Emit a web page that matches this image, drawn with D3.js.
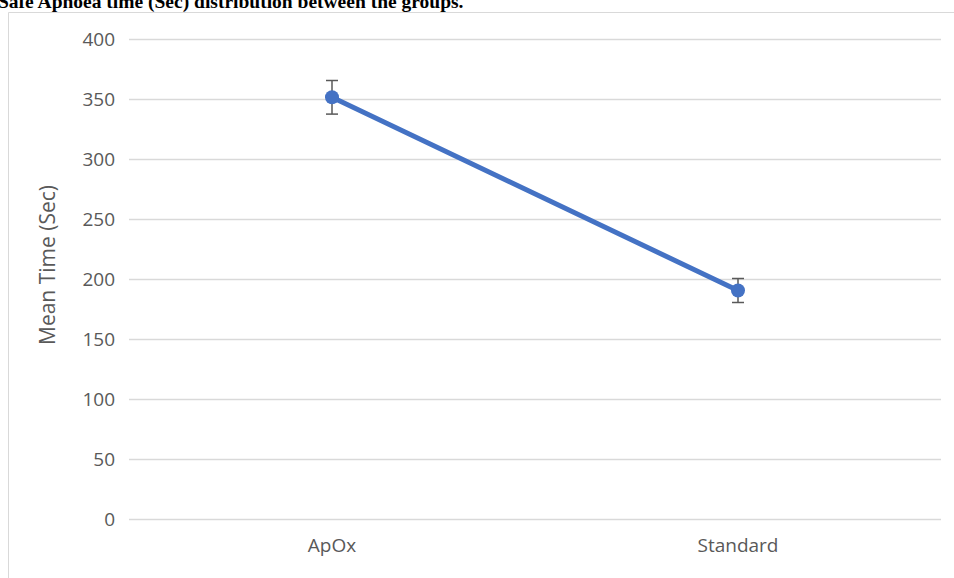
<!DOCTYPE html>
<html>
<head>
<meta charset="utf-8">
<script src="https://cdn.jsdelivr.net/npm/d3@7"></script>
<style>
  html, body { margin: 0; padding: 0; background: #fff; }
  svg { display: block; }
</style>
</head>
<body>
<svg id="chart" width="954" height="578"></svg>
<script>
// Safe apnoea time per group: mean and error (seconds)
const categories = ["ApOx", "Standard"];
const meanValues = [351, 190];
const errorValues = [14, 10];
const yTicks = [0, 50, 100, 150, 200, 250, 300, 350, 400];
const titleText = "Safe Apnoea time (Sec) distribution between the groups.";
const yTitle = "Mean Time (Sec)";

const data = categories.map((c, i) => ({ cat: c, mean: meanValues[i], err: errorValues[i] }));

const svg = d3.select("#chart");
const W = 954, H = 578;
const plot = { left: 129, right: 941, top: 38.5, bottom: 518.5 };
const labelFont = "'Open Sans', sans-serif";

// Caption above the chart frame
svg.append("text")
  .attr("x", -2).attr("y", 8)
  .attr("font-family", "'Liberation Serif', 'Times New Roman', serif")
  .attr("font-weight", "bold")
  .attr("font-size", 19.5)
  .attr("fill", "#000")
  .text(titleText);

// Chart frame (top and left edges)
svg.append("line").attr("x1", 8.5).attr("x2", W).attr("y1", 12.5).attr("y2", 12.5)
  .attr("stroke", "#d9d9d9").attr("stroke-width", 1);
svg.append("line").attr("x1", 8.5).attr("x2", 8.5).attr("y1", 12.5).attr("y2", H)
  .attr("stroke", "#d9d9d9").attr("stroke-width", 1);

const x = d3.scaleBand().domain(categories).range([plot.left, plot.right]);
const y = d3.scaleLinear().domain([0, 400]).range([plot.bottom, plot.top]);

// Horizontal gridlines
svg.append("g")
  .selectAll("line")
  .data(yTicks)
  .join("line")
  .attr("x1", plot.left).attr("x2", plot.right)
  .attr("y1", d => Math.round(y(d)) + 0.5).attr("y2", d => Math.round(y(d)) + 0.5)
  .attr("stroke", "#d9d9d9").attr("stroke-width", 1.3);

// Y axis labels
const yAxis = d3.axisLeft(y).tickValues(yTicks).tickSize(0).tickPadding(0);
const gy = svg.append("g").attr("transform", `translate(115,0)`).call(yAxis);
gy.select(".domain").remove();
gy.selectAll("text")
  .attr("font-family", labelFont)
  .attr("font-size", 19)
  .attr("dy", "0.35em")
  .attr("fill", "#595959");

// X axis labels
const xAxis = d3.axisBottom(x).tickSize(0).tickPadding(0);
const gx = svg.append("g").attr("transform", `translate(0,538)`).call(xAxis);
gx.select(".domain").remove();
gx.selectAll("text")
  .attr("font-family", labelFont)
  .attr("font-size", 19)
  .attr("fill", "#595959");

// Y axis title
svg.append("text")
  .attr("transform", `translate(55,265) rotate(-90)`)
  .attr("text-anchor", "middle")
  .attr("font-family", labelFont)
  .attr("font-size", 21)
  .attr("fill", "#595959")
  .text(yTitle);

const cx = d => x(d.cat) + x.bandwidth() / 2;

// Mean line
svg.append("path")
  .datum(data)
  .attr("fill", "none")
  .attr("stroke", "#4472C4")
  .attr("stroke-width", 5)
  .attr("stroke-linecap", "round")
  .attr("d", d3.line().x(cx).y(d => y(d.mean)));

// Error bars
const eb = svg.append("g").attr("stroke", "#595959").attr("stroke-width", 1.5);
data.forEach(d => {
  const xc = cx(d);
  eb.append("line").attr("x1", xc).attr("x2", xc)
    .attr("y1", y(d.mean + d.err)).attr("y2", y(d.mean - d.err));
  [d.mean + d.err, d.mean - d.err].forEach(v => {
    eb.append("line").attr("x1", xc - 6).attr("x2", xc + 6)
      .attr("y1", y(v)).attr("y2", y(v));
  });
});

// Markers
svg.append("g")
  .selectAll("circle")
  .data(data)
  .join("circle")
  .attr("cx", cx)
  .attr("cy", d => y(d.mean))
  .attr("r", 7)
  .attr("fill", "#4472C4");
</script>
</body>
</html>
